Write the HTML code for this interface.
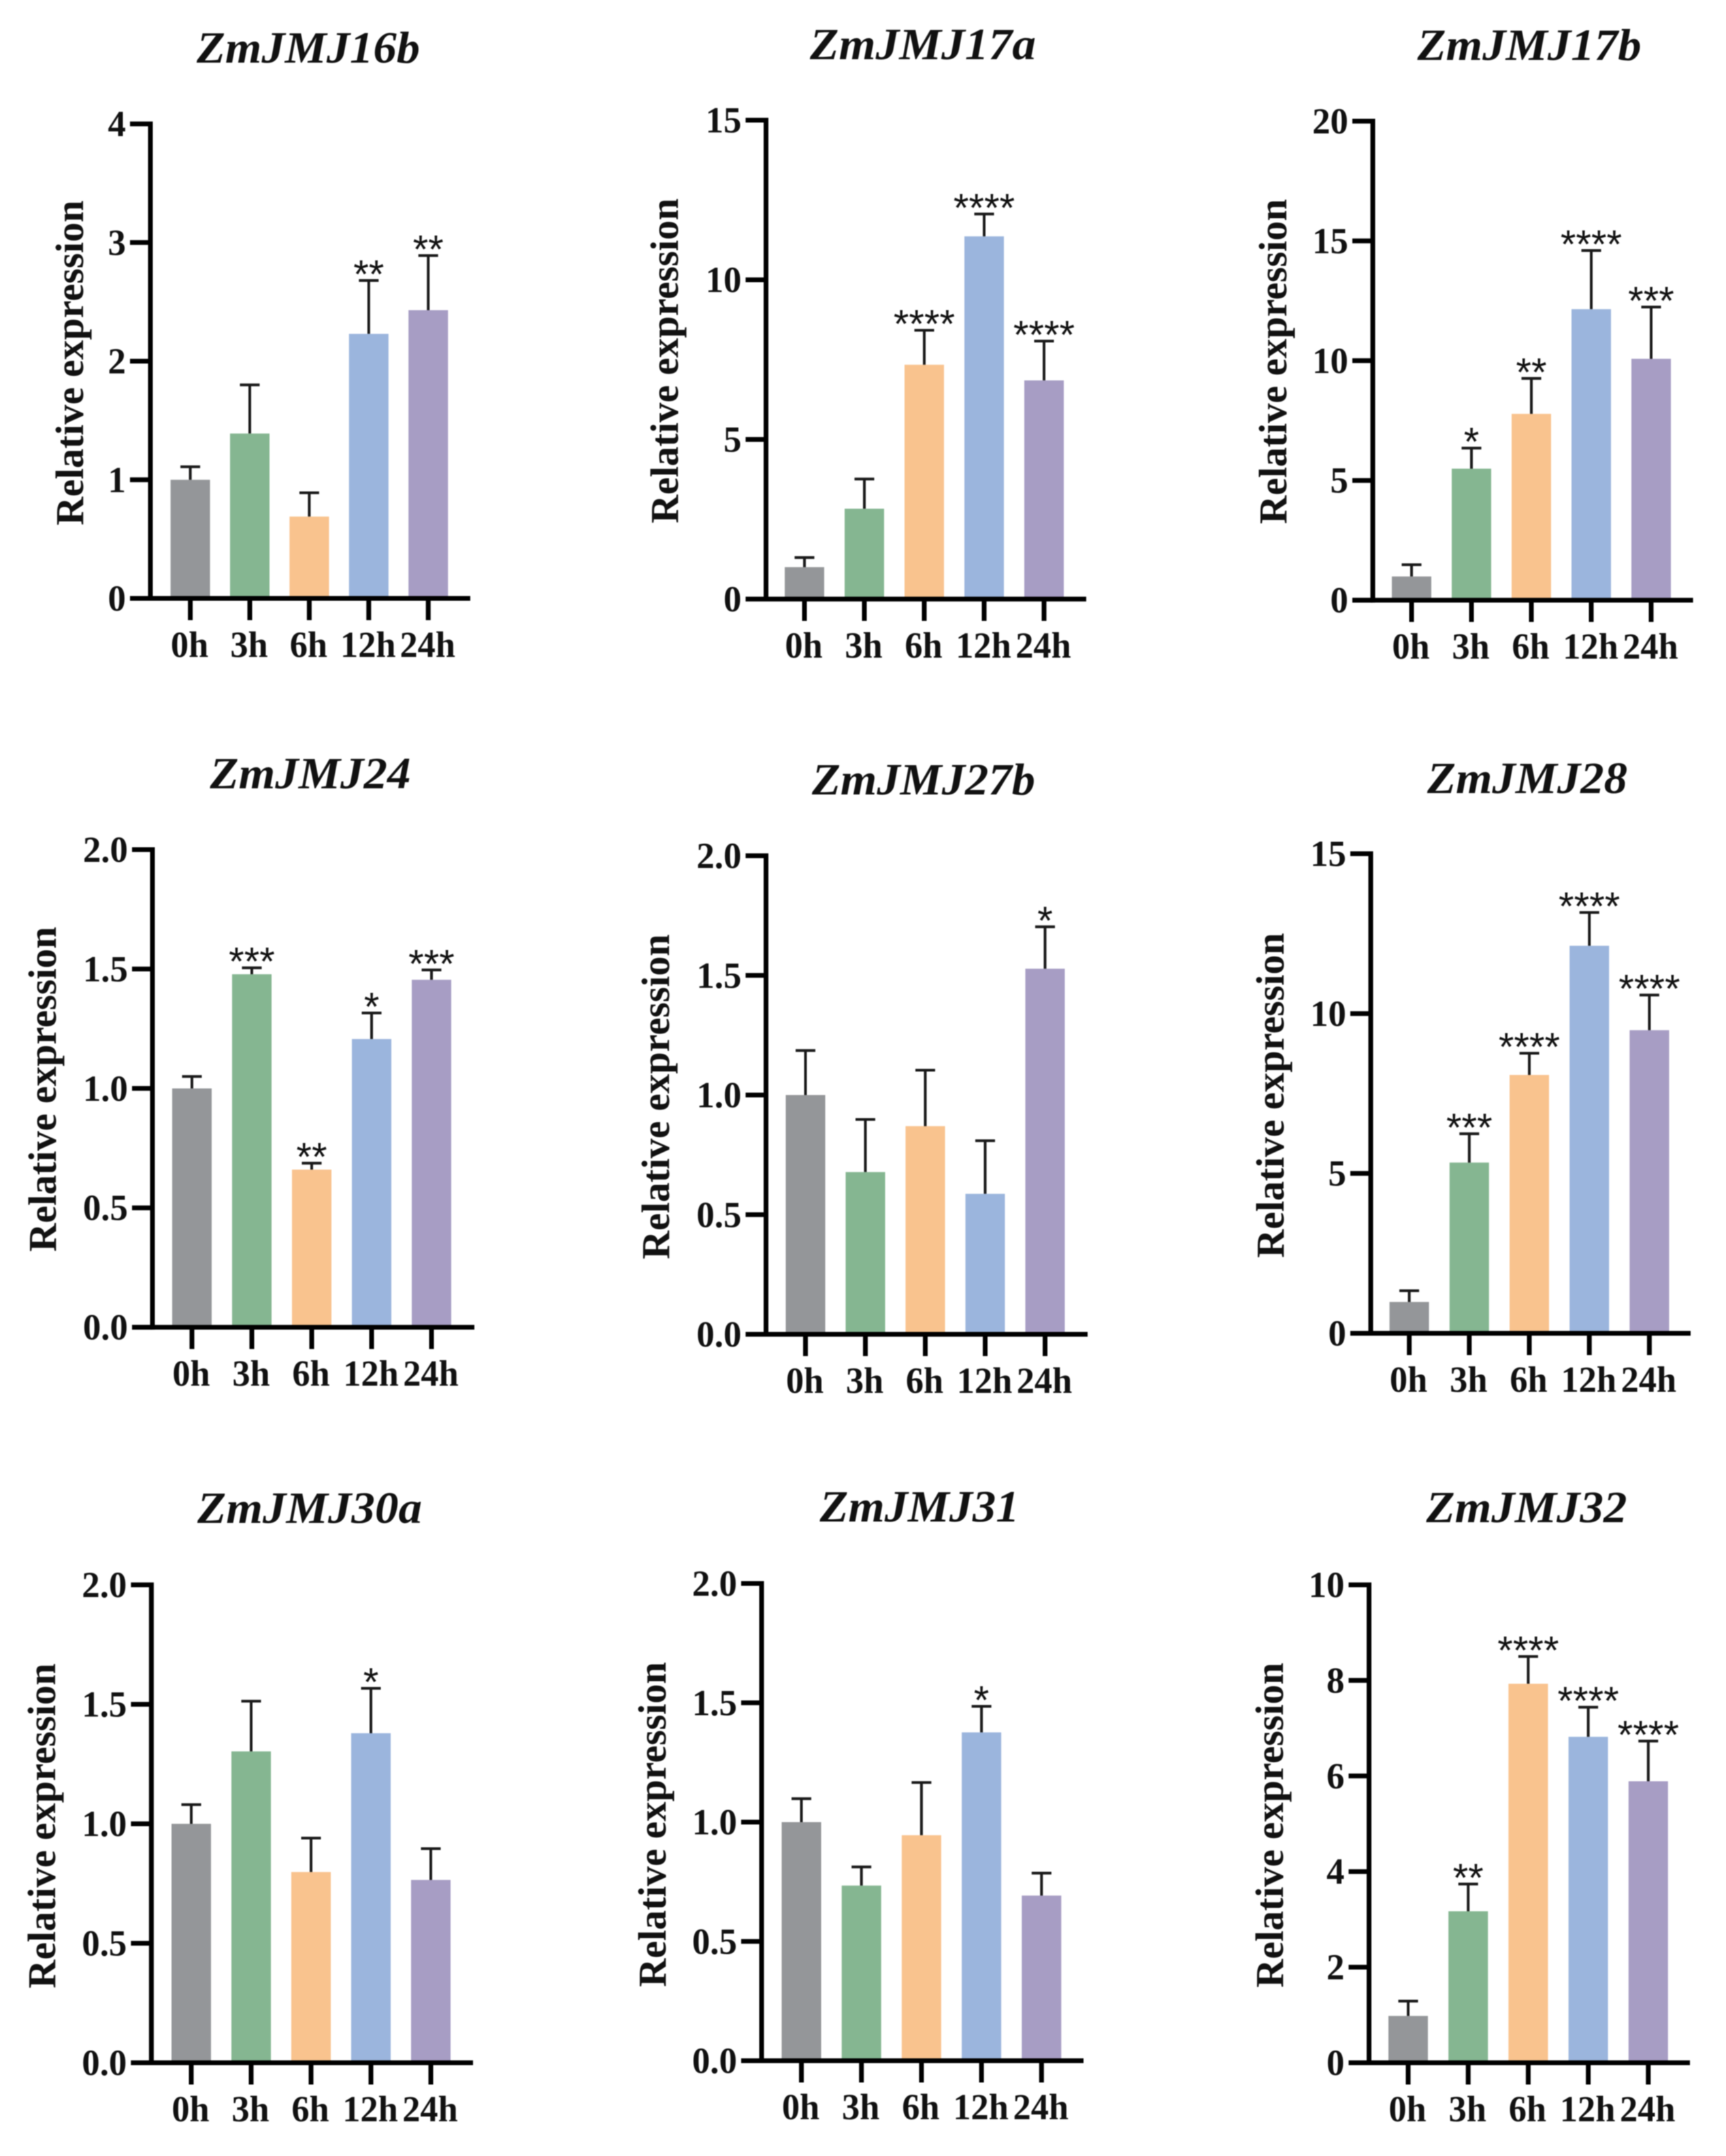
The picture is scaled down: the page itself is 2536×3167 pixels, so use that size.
<!DOCTYPE html>
<html lang="en">
<head>
<meta charset="utf-8">
<title>Relative expression of ZmJMJ genes</title>
<style>
html,body{margin:0;padding:0;background:#fff;}
svg{display:block;filter:blur(.7px);}
text{font-family:"Liberation Serif",serif;fill:#111;}
</style>
</head>
<body>
<svg id="figure" width="2536" height="3167" viewBox="0 0 2536 3167" xmlns="http://www.w3.org/2000/svg">
<rect x="0" y="0" width="2536" height="3167" fill="#ffffff"></rect>
</svg>
<script>
const categories = ["0h", "3h", "6h", "12h", "24h"];
const barColors = ["#949699", "#85B691", "#F9C38E", "#9BB5DD", "#A79DC4"];
const yAxisTitle = "Relative expression";

const titles = ["ZmJMJ16b", "ZmJMJ17a", "ZmJMJ17b", "ZmJMJ24", "ZmJMJ27b", "ZmJMJ28", "ZmJMJ30a", "ZmJMJ31", "ZmJMJ32"];

const ticks16b = ["0", "1", "2", "3", "4"];
const means16b = [1.0, 1.39, 0.69, 2.23, 2.43];
const upper16b = [1.11, 1.80, 0.89, 2.68, 2.89];
const stars16b = ["", "", "", "**", "**"];

const ticks17a = ["0", "5", "10", "15"];
const means17a = [1.0, 2.83, 7.34, 11.36, 6.85];
const upper17a = [1.30, 3.76, 8.42, 12.06, 8.08];
const stars17a = ["", "", "****", "****", "****"];

const ticks17b = ["0", "5", "10", "15", "20"];
const means17b = [0.99, 5.49, 7.78, 12.15, 10.08];
const upper17b = [1.48, 6.35, 9.26, 14.60, 12.24];
const stars17b = ["", "*", "**", "****", "***"];

const ticks24 = ["0.0", "0.5", "1.0", "1.5", "2.0"];
const means24 = [1.0, 1.478, 0.66, 1.207, 1.455];
const upper24 = [1.05, 1.505, 0.687, 1.316, 1.496];
const stars24 = ["", "***", "**", "*", "***"];

const ticks27b = ["0.0", "0.5", "1.0", "1.5", "2.0"];
const means27b = [1.0, 0.678, 0.87, 0.587, 1.528];
const upper27b = [1.186, 0.898, 1.104, 0.809, 1.703];
const stars27b = ["", "", "", "", "*"];

const ticks28 = ["0", "5", "10", "15"];
const means28 = [0.98, 5.34, 8.08, 12.12, 9.48];
const upper28 = [1.33, 6.24, 8.76, 13.16, 10.58];
const stars28 = ["", "***", "****", "****", "****"];

const ticks30a = ["0.0", "0.5", "1.0", "1.5", "2.0"];
const means30a = [1.0, 1.303, 0.798, 1.379, 0.765];
const upper30a = [1.08, 1.513, 0.94, 1.567, 0.896];
const stars30a = ["", "", "", "*", ""];

const ticks31 = ["0.0", "0.5", "1.0", "1.5", "2.0"];
const means31 = [1.0, 0.734, 0.945, 1.376, 0.692];
const upper31 = [1.098, 0.812, 1.166, 1.485, 0.786];
const stars31 = ["", "", "", "*", ""];

const ticks32 = ["0", "2", "4", "6", "8", "10"];
const means32 = [0.98, 3.17, 7.93, 6.82, 5.89];
const upper32 = [1.29, 3.74, 8.50, 7.44, 6.73];
const stars32 = ["", "**", "****", "****", "****"];

const tickSets = [ticks16b, ticks17a, ticks17b, ticks24, ticks27b, ticks28, ticks30a, ticks31, ticks32];
const meanSets = [means16b, means17a, means17b, means24, means27b, means28, means30a, means31, means32];
const upperSets = [upper16b, upper17a, upper17b, upper24, upper27b, upper28, upper30a, upper31, upper32];
const starSets = [stars16b, stars17a, stars17b, stars24, stars27b, stars28, stars30a, stars31, stars32];

/* Panel frames: axis line position, plot extents, first category centre and step, title and y-title placement */
const frames = [
  {l:221,  b:879,  t:182,  r:691,  x0:279.6,  dx:87.4, tx:453,  ty:92,   tw:328, yx:122, yc:533},
  {l:1125.5,b:880, t:176.5,r:1596, x0:1182,   dx:88,   tx:1356, ty:87,   tw:332, yx:996, yc:530},
  {l:2017, b:881.6,t:178,  r:2487.6,x0:2074,  dx:88,   tx:2247, ty:88,   tw:329, yx:1890,yc:531},
  {l:224,  b:1949.6,t:1248,r:697,  x0:282,    dx:88,   tx:456,  ty:1158, tw:295, yx:82,  yc:1600},
  {l:1125.5,b:1960,t:1257, r:1598, x0:1183.5, dx:88,   tx:1357, ty:1167, tw:328, yx:983, yc:1611},
  {l:2014, b:1958.5,t:1254,r:2484, x0:2070.6, dx:88.2, tx:2244, ty:1165, tw:294, yx:1886,yc:1609},
  {l:222.4,b:3030, t:2328, r:695,  x0:281,    dx:88,   tx:455,  ty:2237, tw:330, yx:81,  yc:2682},
  {l:1119, b:3027, t:2326, r:1592, x0:1177.5, dx:88.2, tx:1351, ty:2235, tw:293, yx:978, yc:2680},
  {l:2011.5,b:3030,t:2328, r:2483, x0:2069,   dx:88.2, tx:2243, ty:2236, tw:295, yx:1885,yc:2681}
];

const NS = "http://www.w3.org/2000/svg";
const figure = document.getElementById("figure");

function make(parent, tag, attrs, content) {
  const el = document.createElementNS(NS, tag);
  for (const k in attrs) el.setAttribute(k, attrs[k]);
  if (content !== undefined) el.textContent = content;
  parent.appendChild(el);
  return el;
}

function line(parent, x1, y1, x2, y2, w, color) {
  return make(parent, "line", {x1:x1, y1:y1, x2:x2, y2:y2, stroke:color, "stroke-width":w});
}

titles.forEach(function (title, p) {
  const f = frames[p];
  const tickLabels = tickSets[p];
  const means = meanSets[p];
  const uppers = upperSets[p];
  const stars = starSets[p];
  const maxY = parseFloat(tickLabels[tickLabels.length - 1]);
  const yScale = function (v) { return f.b - (v / maxY) * (f.b - f.t); };
  const xScale = function (i) { return f.x0 + i * f.dx; };

  const g = make(figure, "g", {});
  
  

  const titleEl = make(g, "text", {x:f.tx, y:f.ty, "text-anchor":"middle", "font-size":66, "font-weight":"bold", "font-style":"italic", textLength:f.tw, lengthAdjust:"spacingAndGlyphs"}, title);
  
  

  const yTitle = make(g, "text", {x:0, y:0, transform:"translate(" + f.yx + "," + f.yc + ") rotate(-90)", "text-anchor":"middle", "font-size":58, "font-weight":"bold"}, yAxisTitle);
  
  

  means.forEach(function (m, i) {
    const top = yScale(m);
    const bar = make(g, "rect", {x:xScale(i) - 29, y:top, width:58, height:f.b - top, fill:barColors[i]});
    
    
  });

  uppers.forEach(function (u, i) {
    const cx = xScale(i);
    const capY = yScale(u);
    const stem = line(g, cx, yScale(means[i]), cx, capY, 4, "#1a1a1a");
    
    
    const cap = line(g, cx - 14.5, capY, cx + 14.5, capY, 4, "#1a1a1a");
    
    
    if (stars[i]) {
      const s = make(g, "text", {x:cx, y:capY + 11, "text-anchor":"middle", "font-size":58, style:'font-family:"Liberation Sans",sans-serif'}, stars[i]);
      
      
    }
  });

  const yAxis = line(g, f.l, f.t - 3.5, f.l, f.b + 3.5, 7, "#000");
  
  
  const xAxis = line(g, f.l - 30, f.b, f.r, f.b, 7, "#000");
  
  

  tickLabels.forEach(function (lab) {
    const y = yScale(parseFloat(lab));
    const tick = line(g, f.l - 30, y, f.l, y, 7, "#000");
    
    
    const tx = make(g, "text", {transform:"translate(" + (f.l - 36) + "," + (y + 18) + ") scale(.98,1)", "text-anchor":"end", "font-size":54, "font-weight":"bold"}, lab);
    
    
  });

  categories.forEach(function (c, i) {
    const cx = xScale(i);
    const tick = line(g, cx, f.b, cx, f.b + 32, 7, "#000");
    
    
    const tx = make(g, "text", {transform:"translate(" + (cx - 1) + "," + (f.b + 86) + ") scale(.97,1)", "text-anchor":"middle", "font-size":54, "font-weight":"bold"}, c);
    
    
  });
});
</script>
</body>
</html>
